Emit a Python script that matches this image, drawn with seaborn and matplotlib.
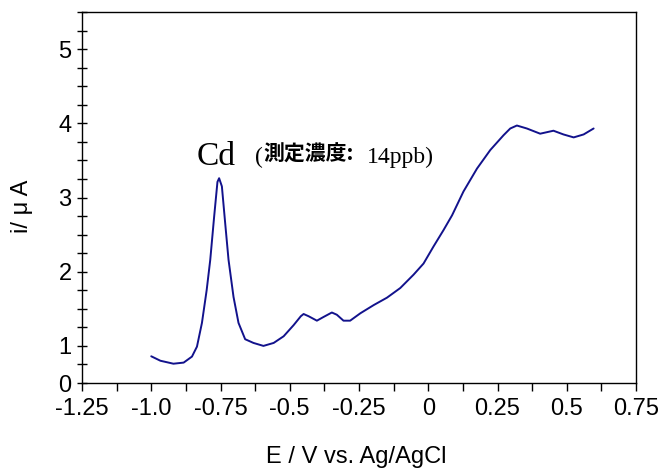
import matplotlib
matplotlib.use("Agg")
import matplotlib.pyplot as plt
import seaborn as sns
import numpy as np
import pandas as pd
from matplotlib.ticker import MultipleLocator, FixedLocator

# Data
potential = [-1.0, -0.967, -0.92, -0.883, -0.853, -0.835, -0.817, -0.8, -0.787, -0.773,
             -0.761, -0.755, -0.745, -0.733, -0.721, -0.703, -0.685, -0.661, -0.631, -0.595,
             -0.558, -0.522, -0.486, -0.46, -0.45, -0.432, -0.402, -0.378, -0.348, -0.33,
             -0.306, -0.282, -0.245, -0.197, -0.149, -0.101, -0.053, -0.017, 0.019, 0.055,
             0.086, 0.127, 0.176, 0.224, 0.272, 0.296, 0.32, 0.356, 0.404, 0.452,
             0.488, 0.525, 0.561, 0.597]
current = [0.86, 0.80, 0.76, 0.775, 0.856, 0.99, 1.31, 1.75, 2.16, 2.74,
           3.21, 3.26, 3.15, 2.65, 2.16, 1.66, 1.31, 1.09, 1.04, 1.0,
           1.04, 1.13, 1.28, 1.40, 1.43, 1.40, 1.34, 1.39, 1.45, 1.42,
           1.34, 1.34, 1.44, 1.55, 1.65, 1.78, 1.96, 2.11, 2.34, 2.56,
           2.76, 3.08, 3.39, 3.64, 3.84, 3.93, 3.97, 3.93, 3.86, 3.90,
           3.85, 3.81, 3.85, 3.93]

x_ticks = [-1.25, -1.0, -0.75, -0.5, -0.25, 0.0, 0.25, 0.5, 0.75]
x_tick_labels = ["-1.25", "-1.0", "-0.75", "-0.5", "-0.25", "0", "0.25", "0.5", "0.75"]
y_ticks = [0.5, 1, 2, 3, 4, 5]
y_tick_labels = ["0", "1", "2", "3", "4", "5"]

sns.set_style("ticks")
plt.rcParams['font.family'] = ['Liberation Sans', 'DejaVu Sans']
plt.rcParams['text.color'] = 'black'
plt.rcParams['axes.labelcolor'] = 'black'

fig = plt.figure(figsize=(6.58, 4.69), dpi=100)
ax = fig.add_axes([82/658, 1-383/469, (636-82)/658, (383-12)/469])

df = pd.DataFrame({"E": potential, "i": current})
sns.lineplot(data=df, x="E", y="i", sort=False, color="#12128c", linewidth=1.4, ax=ax)

ax.set_xlim(-1.25, 0.75)
ax.set_ylim(0.5, 5.5)
ax.xaxis.set_major_locator(FixedLocator(x_ticks))
ax.set_xticklabels(x_tick_labels)
ax.xaxis.set_minor_locator(MultipleLocator(0.125))
ax.yaxis.set_major_locator(FixedLocator(y_ticks))
ax.set_yticklabels(y_tick_labels)
ax.yaxis.set_minor_locator(MultipleLocator(0.25))

ax.tick_params(axis='x', which='both', direction='out', length=6, width=1, labelsize=17, pad=5, colors='black')
ax.tick_params(axis='y', which='both', direction='inout', length=7, width=1, labelsize=17, pad=4, colors='black')
ax.tick_params(top=False, right=False)
for s in ax.spines.values():
    s.set_visible(True)
    s.set_color('black')
    s.set_linewidth(1.0)

ax.set_xlabel("E / V vs. Ag/AgCl", fontsize=17, color='black')
ax.xaxis.set_label_coords((356-82)/554, (383-457)/371)
ax.xaxis.label.set_va('center')
ax.set_ylabel("i/ μ A", fontsize=17, color='black')
ax.yaxis.set_label_coords((22-82)/554, (383-206)/371)
ax.yaxis.label.set_va('center')

ax.text(-0.8375, 3.44, "Cd", fontsize=24, family=['Liberation Serif'], va='baseline', ha='left')
ax.text(-0.6245, 3.46, "(", fontsize=17, family=['Liberation Serif'], va='baseline', ha='left')
ax.text(-0.5957, 3.49, "測定濃度:", fontsize=15, family=['Noto Sans CJK JP'], fontweight='bold',
        va='baseline', ha='left')
ax.text(-0.2202, 3.46, "14ppb)", fontsize=17, family=['Liberation Serif'], va='baseline', ha='left')

fig.savefig("out.png", dpi=100)
